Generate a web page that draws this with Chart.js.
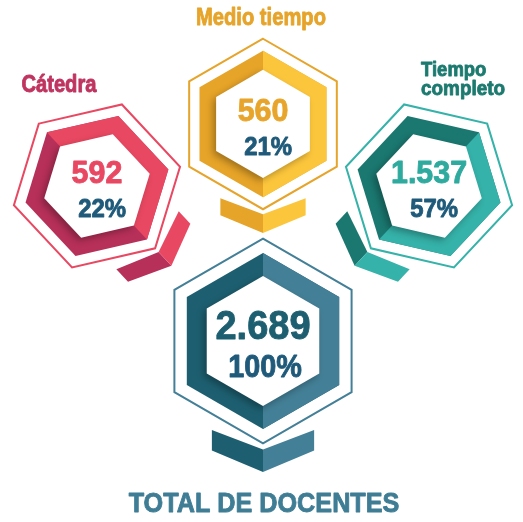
<!DOCTYPE html>
<html>
<head>
<meta charset="utf-8">
<script src="https://cdn.jsdelivr.net/npm/chart.js@4"></script>
<style>
  html, body { margin: 0; padding: 0; background: #ffffff; }
  #wrap { width: 523px; height: 522px; position: relative; }
</style>
</head>
<body>
<div id="wrap"><canvas id="docentesChart"></canvas></div>
<script>
// datos
const categories = ["Cátedra", "Medio tiempo", "Tiempo completo"];
const docentes = [592, 560, 1537];
const porcentajes = [22, 21, 57];
const totalLabel = "TOTAL DE DOCENTES";
const totalDocentes = 2689;
const totalPorcentaje = 100;

// layout (column / tier on the hidden scales, tilt in degrees)
const colPos = [0, 1, 2];
const tierPos = [1, 1.4, 1];
const tilt = [-43, 0, 43];
const totalCol = 1;
const totalTier = 0;

const palette = [
  { dark: "#B7305A", light: "#E94862", line: "#E94862", value: "#E94862", label: "#BF3460" },
  { dark: "#E6A428", light: "#FCC63C", line: "#E6A42A", value: "#E8A52B", label: "#E6A42A" },
  { dark: "#1A7870", light: "#35B2A9", line: "#35B2A9", value: "#2FAA9E", label: "#1C7A6F" }
];
const totalColors = { dark: "#1D5F70", light: "#437F96", line: "#437F96", value: "#1D5F70", label: "#3F7D95" };
const pctColor = "#1F5A7A";

// 1537 -> "1.537"
function fmt(n) {
  return String(n).replace(/\B(?=(\d{3})+(?!\d))/g, ".");
}

function hexPath(ctx, r) {
  ctx.beginPath();
  for (let k = 0; k < 6; k++) {
    const a = (k * 60 - 90) * Math.PI / 180;
    const x = r * Math.cos(a), y = r * Math.sin(a);
    if (k === 0) ctx.moveTo(x, y); else ctx.lineTo(x, y);
  }
  ctx.closePath();
}

function poly(ctx, pts, color) {
  ctx.beginPath();
  pts.forEach((p, i) => i ? ctx.lineTo(p[0], p[1]) : ctx.moveTo(p[0], p[1]));
  ctx.closePath();
  ctx.fillStyle = color;
  ctx.fill();
}

function drawText(ctx, str, x, y, size, color, sx, align) {
  ctx.save();
  ctx.translate(x, y);
  ctx.scale(sx, 1);
  ctx.font = `bold ${size}px "Liberation Sans", Arial, sans-serif`;
  ctx.fillStyle = color;
  ctx.strokeStyle = color;
  ctx.lineWidth = 0.9;
  ctx.lineJoin = "round";
  ctx.textAlign = align || "center";
  ctx.textBaseline = "alphabetic";
  ctx.fillText(str, 0, 0);
  ctx.strokeText(str, 0, 0);
  ctx.restore();
}

// hexagon with ring, outline and little chevron underneath
function drawHex(ctx, cx, cy, R, deg, c) {
  ctx.save();
  ctx.translate(cx, cy);
  ctx.rotate(deg * Math.PI / 180);

  // chevron
  const w = 0.5 * R;
  poly(ctx, [[-w, 0.87 * R], [0, 1.06 * R], [0, 1.28 * R], [-w, 1.07 * R]], c.dark);
  poly(ctx, [[w, 0.87 * R], [0, 1.06 * R], [0, 1.28 * R], [w, 1.07 * R]], c.light);

  // thin outline
  hexPath(ctx, R);
  ctx.strokeStyle = c.line;
  ctx.lineWidth = 2;
  ctx.stroke();

  // ring, dark left / light right
  hexPath(ctx, 0.86 * R);
  ctx.fillStyle = c.dark;
  ctx.fill();
  ctx.save();
  ctx.beginPath();
  ctx.rect(0, -R, R, 2 * R);
  ctx.clip();
  hexPath(ctx, 0.86 * R);
  ctx.fillStyle = c.light;
  ctx.fill();
  ctx.restore();

  // white centre with a soft shadow
  ctx.save();
  ctx.shadowColor = "rgba(0,0,0,0.3)";
  ctx.shadowBlur = 7;
  ctx.shadowOffsetX = -3;
  ctx.shadowOffsetY = 3;
  hexPath(ctx, 0.635 * R);
  ctx.fillStyle = "#ffffff";
  ctx.fill();
  ctx.restore();

  ctx.restore();
}

const hexPlugin = {
  id: "hexagons",
  afterDatasetsDraw(chart) {
    const ctx = chart.ctx;
    const R = chart.chartArea.width * 0.163;
    const cats = chart.getDatasetMeta(0).data;
    const tot = chart.getDatasetMeta(1).data[0];

    // total hexagon
    const TR = R * 1.2;
    drawHex(ctx, tot.x, tot.y, TR, 0, totalColors);
    drawText(ctx, fmt(totalDocentes), tot.x, tot.y - 0.02 * TR, 40, totalColors.value, 0.95);
    drawText(ctx, totalPorcentaje + "%", tot.x + 0.02 * TR, tot.y + 0.35 * TR, 32, pctColor, 0.9);
    drawText(ctx, totalLabel, tot.x + 1, tot.y + 171, 28, totalColors.label, 0.9);

    // category hexagons
    const labelDx = [-38, -2, -8];
    const labelDy = [-94, -99, -91];
    cats.forEach((pt, i) => {
      const c = palette[i];
      drawHex(ctx, pt.x, pt.y, R, tilt[i], c);
      drawText(ctx, fmt(docentes[i]), pt.x, pt.y - 0.04 * R, 32, c.value, 0.95);
      drawText(ctx, porcentajes[i] + "%", pt.x + 0.06 * R, pt.y + 0.36 * R, 26, pctColor, 0.92);

      const words = categories[i].split(" ");
      if (i === 2) {
        drawText(ctx, words[0], pt.x + labelDx[i], pt.y + labelDy[i] - 19, 21, c.label, 0.88, "left");
        drawText(ctx, words[1], pt.x + labelDx[i], pt.y + labelDy[i], 21, c.label, 0.9, "left");
      } else {
        drawText(ctx, categories[i], pt.x + labelDx[i], pt.y + labelDy[i], 24, c.label, 0.84);
      }
    });
  }
};

const ctx = document.getElementById("docentesChart").getContext("2d");

new Chart(ctx, {
  type: "scatter",
  data: {
    datasets: [
      {
        label: "Docentes",
        data: categories.map((c, i) => ({ x: colPos[i], y: tierPos[i] })),
        pointRadius: 0
      },
      {
        label: totalLabel,
        data: [{ x: totalCol, y: totalTier }],
        pointRadius: 0
      }
    ]
  },
  options: {
    responsive: true,
    maintainAspectRatio: false,
    animation: false,
    layout: { padding: 0 },
    plugins: {
      legend: { display: false },
      tooltip: { enabled: false }
    },
    scales: {
      x: { type: "linear", min: -0.584, max: 2.566, display: false },
      y: { type: "linear", min: -1.168, max: 2.2, display: false }
    }
  },
  plugins: [hexPlugin]
});
</script>
</body>
</html>
